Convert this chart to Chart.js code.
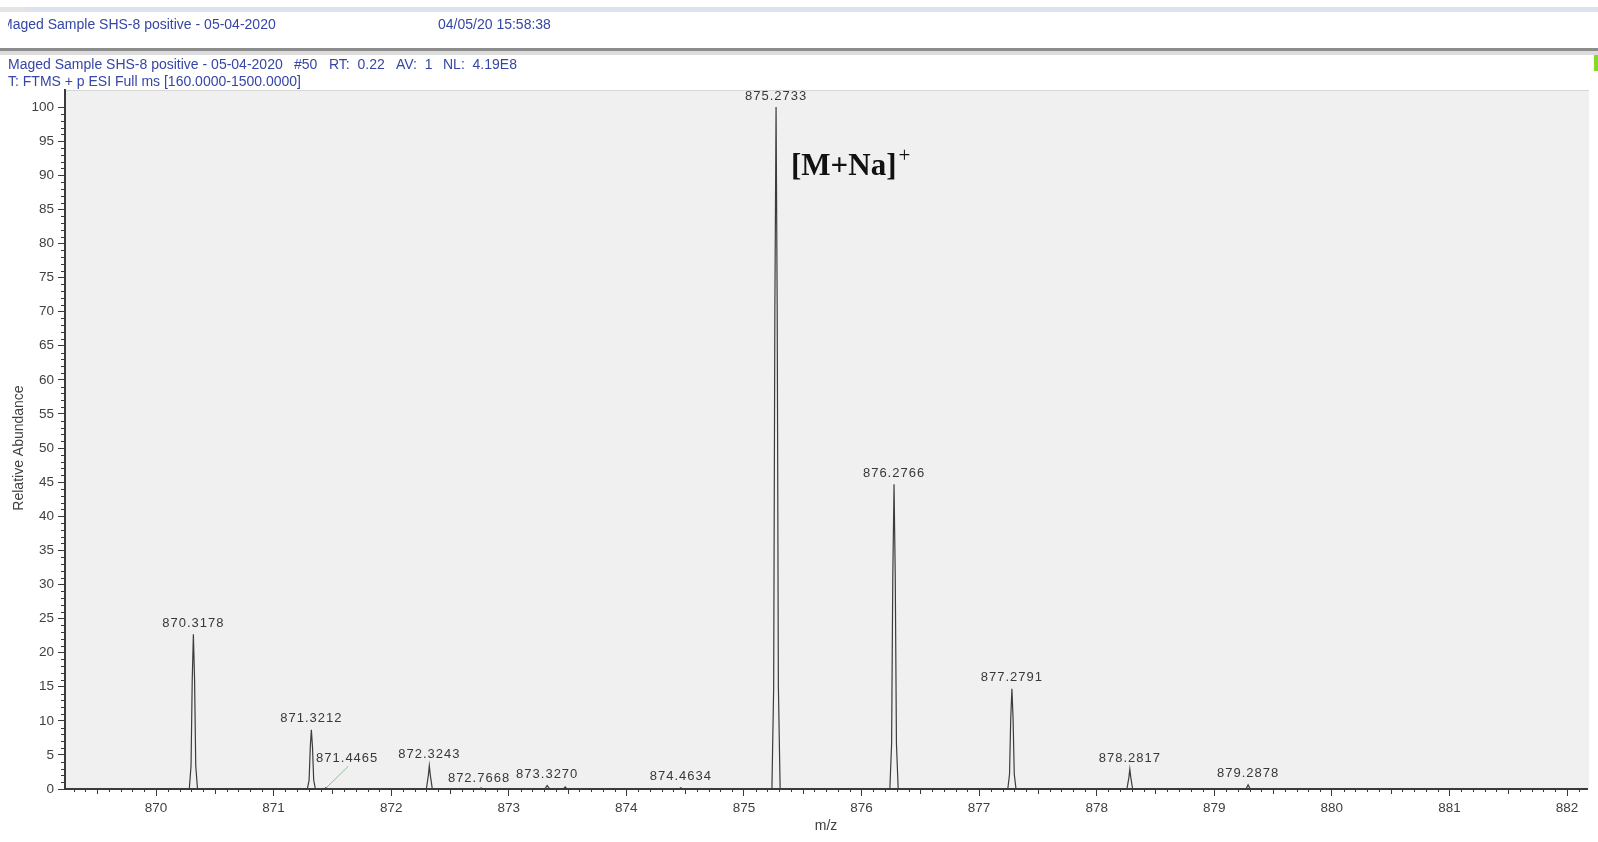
<!DOCTYPE html>
<html>
<head>
<meta charset="utf-8">
<title>Maged Sample SHS-8 positive - 05-04-2020</title>
<script src="https://cdn.jsdelivr.net/npm/chart.js@4.4.1/dist/chart.umd.min.js"></script>
<style>
    html, body { margin: 0; padding: 0; background: #fff; }
    body {
        width: 1598px; height: 842px; position: relative; overflow: hidden;
        font-family: "Liberation Sans", Arial, sans-serif;
    }
    #spectrum { position: absolute; left: 0; top: 0; }
    .band { position: absolute; }
    .hdr { position: absolute; font-size: 14px; line-height: 16px; color: #3546a6; white-space: pre; }
    .clip { overflow: hidden; }
    .ion {
        position: absolute; left: 791px; top: 150px;
        font-family: "Liberation Serif", "Times New Roman", serif;
        font-weight: bold; font-size: 31px; line-height: 30px; color: #111;
        white-space: pre;
    }
    .ion span { position: relative; top: -13px; font-size: 21px; font-weight: normal; margin-left: 2px; }
</style>
</head>
<body>
<canvas id="spectrum" width="1598" height="842"></canvas>

<!-- header strip -->
<div class="band" style="left:0;top:7px;width:25px;height:5px;background:#e4e4e4"></div>
<div class="band" style="left:25px;top:7px;width:1573px;height:5px;background:#dde3ee"></div>
<div class="hdr clip" style="left:8px;top:16px;width:400px"><div style="margin-left:-7px">Maged Sample SHS-8 positive - 05-04-2020</div></div>
<div class="hdr" style="left:438px;top:16px">04/05/20 15:58:38</div>
<div class="band" style="left:0;top:48px;width:1598px;height:3px;background:#8c8c8c"></div>
<div class="band" style="left:0;top:51px;width:1598px;height:4px;background:#dcdcdc"></div>
<div class="band" style="left:1594px;top:55px;width:4px;height:16px;background:#7fdc2a"></div>
<div class="hdr" style="left:8px;top:56px">Maged Sample SHS-8 positive - 05-04-2020</div>
<div class="hdr" style="left:294px;top:56px">#50</div>
<div class="hdr" style="left:329px;top:56px">RT:  0.22</div>
<div class="hdr" style="left:396px;top:56px">AV:  1</div>
<div class="hdr" style="left:443px;top:56px">NL:  4.19E8</div>
<div class="hdr" style="left:8px;top:73px">T: FTMS + p ESI Full ms [160.0000-1500.0000]</div>

<div class="ion">[M+Na]<span>+</span></div>

<script>
// profile trace (m/z, relative abundance)
const profileMz = [
    869.226,
    870.283, 870.298, 870.308, 870.3178, 870.328, 870.338, 870.353,
    871.287, 871.302, 871.312, 871.3212, 871.331, 871.341, 871.356,
    871.432, 871.4465, 871.461,
    872.299, 872.316, 872.3243, 872.333, 872.350,
    872.752, 872.7668, 872.782,
    873.305, 873.327, 873.349,
    873.465, 873.480, 873.495,
    874.448, 874.4634, 874.479,
    875.238, 875.253, 875.263, 875.2733, 875.283, 875.293, 875.308,
    876.241, 876.256, 876.266, 876.2766, 876.287, 876.297, 876.312,
    877.244, 877.259, 877.269, 877.2791, 877.289, 877.299, 877.314,
    878.257, 878.274, 878.2817, 878.290, 878.306,
    879.270, 879.2878, 879.306,
    882.17
];
const profileAbund = [
    0,
    0, 3.4, 16, 22.7, 16, 3.4, 0,
    0, 1.3, 6.1, 8.7, 6.1, 1.3, 0,
    0, 0.2, 0,
    0, 2.0, 3.4, 2.0, 0,
    0, 0.15, 0,
    0, 0.5, 0,
    0, 0.3, 0,
    0, 0.2, 0,
    0, 15, 70, 100, 70, 15, 0,
    0, 6.7, 31, 44.7, 31, 6.7, 0,
    0, 2.2, 10.3, 14.7, 10.3, 2.2, 0,
    0, 1.7, 2.9, 1.7, 0,
    0, 0.6, 0,
    0
];

// labelled centroids
const peakMz = [870.3178, 871.3212, 871.4465, 872.3243, 872.7668, 873.3270,
                874.4634, 875.2733, 876.2766, 877.2791, 878.2817, 879.2878];
const peakAbund = [22.7, 8.7, 0.2, 3.4, 0.15, 0.5, 0.2, 100, 44.7, 14.7, 2.9, 0.6];
const peakText = ['870.3178', '871.3212', '871.4465', '872.3243', '872.7668', '873.3270',
                  '874.4634', '875.2733', '876.2766', '877.2791', '878.2817', '879.2878'];

// labels that were pushed aside and get a leader line (placed in m/z, abundance)
const leaderLabels = {
    '871.4465': [871.626, 4.5],
    '872.7668': [872.747, 1.5]
};

const FONT = '"Liberation Sans", Arial, sans-serif';
const AXIS = '#3a3a3a';
const TEXT = '#404040';

// plot background, minor ticks, y title and peak labels
const spectrumDecor = {
    id: 'spectrumDecor',
    beforeDraw(chart) {
        const { ctx, chartArea: a } = chart;
        ctx.save();
        ctx.fillStyle = '#f0f0f0';
        ctx.fillRect(a.left + 1, a.top, a.right - a.left + 1, a.bottom - a.top);
        ctx.strokeStyle = '#d6d6d6';
        ctx.lineWidth = 1;
        ctx.beginPath();
        ctx.moveTo(a.left, a.top + 0.5);
        ctx.lineTo(a.right + 2, a.top + 0.5);
        ctx.stroke();
        ctx.restore();
    },
    afterDraw(chart) {
        const { ctx, scales: { x, y } } = chart;
        ctx.save();

        // minor ticks
        ctx.strokeStyle = AXIS;
        ctx.lineWidth = 1;
        ctx.beginPath();
        for (let i = Math.ceil(x.min * 10); i <= Math.floor(x.max * 10); i++) {
            if (i % 10 === 0) continue;
            const px = Math.round(x.getPixelForValue(i / 10)) + 0.5;
            const len = i % 5 === 0 ? 5 : 3;
            ctx.moveTo(px, y.bottom);
            ctx.lineTo(px, y.bottom + len);
        }
        for (let v = 1; v < 100; v++) {
            if (v % 5 === 0) continue;
            const py = Math.round(y.getPixelForValue(v)) + 0.5;
            ctx.moveTo(x.left - 4, py);
            ctx.lineTo(x.left, py);
        }
        ctx.stroke();

        // y axis title, a little below the middle as in the original
        ctx.save();
        ctx.translate(19, 448);
        ctx.rotate(-Math.PI / 2);
        ctx.font = '14px ' + FONT;
        ctx.fillStyle = TEXT;
        ctx.textAlign = 'center';
        ctx.textBaseline = 'middle';
        ctx.fillText('Relative Abundance', 0, 0);
        ctx.restore();

        // peak labels
        ctx.font = '13px ' + FONT;
        ctx.letterSpacing = '1px';
        ctx.fillStyle = '#383838';
        ctx.textAlign = 'center';
        ctx.textBaseline = 'middle';
        peakText.forEach((t, i) => {
            const px = x.getPixelForValue(peakMz[i]);
            const py = y.getPixelForValue(peakAbund[i]);
            const lead = leaderLabels[t];
            if (lead) {
                const lx = x.getPixelForValue(lead[0]);
                const ly = y.getPixelForValue(lead[1]);
                ctx.fillText(t, lx, ly);
                ctx.strokeStyle = '#80cc80';
                ctx.beginPath();
                ctx.moveTo(lx + 1, ly + 8);
                ctx.lineTo(px, y.bottom - 1);
                ctx.stroke();
            } else {
                ctx.fillText(t, px, py - 11);
            }
        });
        ctx.restore();
    }
};

const ctx = document.getElementById('spectrum').getContext('2d');
new Chart(ctx, {
    type: 'scatter',
    data: {
        datasets: [{
            data: profileMz.map((mz, i) => ({ x: mz, y: profileAbund[i] })),
            showLine: true,
            borderColor: '#3c3c3c',
            borderWidth: 1.2,
            pointRadius: 0,
            tension: 0,
            fill: false
        }]
    },
    options: {
        responsive: false,
        animation: false,
        layout: { padding: { top: 90, right: 11, left: 0, bottom: 0 } },
        plugins: {
            legend: { display: false },
            tooltip: { enabled: false }
        },
        scales: {
            x: {
                type: 'linear',
                min: 869.226,
                max: 882.17,
                afterFit: s => { s.height = 53; },
                border: { color: AXIS, width: 2 },
                grid: { drawOnChartArea: false, drawTicks: true, tickLength: 7, color: AXIS },
                ticks: {
                    stepSize: 1,
                    includeBounds: false,
                    autoSkip: false,
                    maxRotation: 0,
                    padding: 4,
                    color: TEXT,
                    font: { size: 13.5, family: FONT }
                },
                title: {
                    display: true, text: 'm/z', color: TEXT,
                    font: { size: 14, family: FONT },
                    padding: { top: 0, bottom: 7 }
                }
            },
            y: {
                min: 0,
                max: 102.5,
                afterFit: s => { s.width = 65; },
                border: { color: AXIS, width: 2 },
                grid: { drawOnChartArea: false, drawTicks: true, tickLength: 7, color: AXIS },
                ticks: {
                    stepSize: 5,
                    includeBounds: false,
                    padding: 4,
                    color: TEXT,
                    font: { size: 13.5, family: FONT }
                }
            }
        }
    },
    plugins: [spectrumDecor]
});
</script>
</body>
</html>
